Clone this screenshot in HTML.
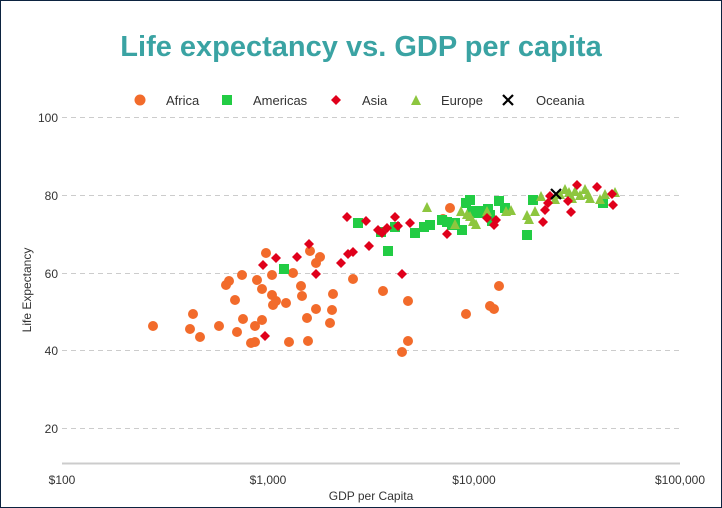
<!DOCTYPE html>
<html><head><meta charset="utf-8"><style>
body{margin:0;background:#fff}
svg{display:block;font-family:"Liberation Sans",Arial,sans-serif}
</style></head><body>
<svg width="722" height="508" viewBox="0 0 722 508">
<rect x="0.5" y="0.5" width="721" height="507" fill="#fff" stroke="#0c2340"/>
<text x="361" y="56" text-anchor="middle" font-size="29" font-weight="bold" fill="#3aa3a3">Life expectancy vs. GDP per capita</text>
<g font-size="13" fill="#333">
<circle cx="140" cy="100" r="5.5" fill="#f26b2b"/><text x="166" y="105">Africa</text>
<rect x="222" y="95" width="10" height="10" fill="#22cc44"/><text x="253" y="105">Americas</text>
<path d="M336 95 L341 100 L336 105 L331 100Z" fill="#e0001b"/><text x="362" y="105">Asia</text>
<path d="M416 95 L421 105 L411 105Z" fill="#8dc63f"/><text x="441" y="105">Europe</text>
<path d="M503 95 L513 105 M513 95 L503 105" stroke="#000" stroke-width="2.2"/><text x="536" y="105">Oceania</text>
</g>
<g stroke="#ccc" stroke-dasharray="5,4">
<line x1="62" x2="680" y1="117.5" y2="117.5"/><line x1="62" x2="680" y1="195.5" y2="195.5"/>
<line x1="62" x2="680" y1="273.5" y2="273.5"/><line x1="62" x2="680" y1="350.5" y2="350.5"/>
<line x1="62" x2="680" y1="428.5" y2="428.5"/>
</g>
<line x1="62" x2="680" y1="463.5" y2="463.5" stroke="#ccc" stroke-width="2"/>
<g font-size="12" fill="#333" text-anchor="end">
<text x="58" y="122">100</text><text x="58" y="200">80</text><text x="58" y="278">60</text><text x="58" y="355">40</text><text x="58" y="433">20</text>
</g>
<g font-size="12" fill="#333" text-anchor="middle">
<text x="62" y="484">$100</text><text x="268" y="484">$1,000</text><text x="474" y="484">$10,000</text><text x="680" y="484">$100,000</text>
<text x="371" y="500">GDP per Capita</text>
<text transform="translate(31,290) rotate(-90)">Life Expectancy</text>
</g>
<g fill="#f26b2b">
<circle cx="153" cy="326" r="5"/><circle cx="190" cy="329" r="5"/><circle cx="193" cy="314" r="5"/><circle cx="200" cy="337" r="5"/><circle cx="219" cy="326" r="5"/><circle cx="226" cy="285" r="5"/><circle cx="229" cy="281" r="5"/><circle cx="235" cy="300" r="5"/><circle cx="237" cy="332" r="5"/><circle cx="242" cy="275" r="5"/><circle cx="243" cy="319" r="5"/><circle cx="251" cy="343" r="5"/><circle cx="255" cy="342" r="5"/><circle cx="255" cy="326" r="5"/><circle cx="257" cy="280" r="5"/><circle cx="262" cy="289" r="5"/><circle cx="262" cy="320" r="5"/><circle cx="266" cy="253" r="5"/><circle cx="272" cy="275" r="5"/><circle cx="272" cy="295" r="5"/><circle cx="273" cy="305" r="5"/><circle cx="276" cy="301" r="5"/><circle cx="286" cy="303" r="5"/><circle cx="289" cy="342" r="5"/><circle cx="293" cy="273" r="5"/><circle cx="301" cy="286" r="5"/><circle cx="302" cy="296" r="5"/><circle cx="307" cy="318" r="5"/><circle cx="308" cy="341" r="5"/><circle cx="310" cy="251" r="5"/><circle cx="316" cy="263" r="5"/><circle cx="316" cy="309" r="5"/><circle cx="320" cy="257" r="5"/><circle cx="330" cy="323" r="5"/><circle cx="333" cy="294" r="5"/><circle cx="332" cy="310" r="5"/><circle cx="353" cy="279" r="5"/><circle cx="383" cy="291" r="5"/><circle cx="402" cy="352" r="5"/><circle cx="408" cy="341" r="5"/><circle cx="408" cy="301" r="5"/><circle cx="443" cy="219" r="5"/><circle cx="450" cy="208" r="5"/><circle cx="466" cy="314" r="5"/><circle cx="490" cy="306" r="5"/><circle cx="494" cy="309" r="5"/><circle cx="499" cy="286" r="5"/>
</g>
<g fill="#22cc44">
<rect x="279" y="264" width="10" height="10"/><rect x="353" y="218" width="10" height="10"/><rect x="376" y="227" width="10" height="10"/><rect x="383" y="246" width="10" height="10"/><rect x="390" y="222" width="10" height="10"/><rect x="410" y="228" width="10" height="10"/><rect x="419" y="222" width="10" height="10"/><rect x="425" y="220" width="10" height="10"/><rect x="437" y="215" width="10" height="10"/><rect x="442" y="217" width="10" height="10"/><rect x="447" y="220" width="10" height="10"/><rect x="450" y="218" width="10" height="10"/><rect x="457" y="225" width="10" height="10"/><rect x="461" y="198" width="10" height="10"/><rect x="465" y="195" width="10" height="10"/><rect x="467" y="206" width="10" height="10"/><rect x="471" y="208" width="10" height="10"/><rect x="473" y="206" width="10" height="10"/><rect x="476" y="208" width="10" height="10"/><rect x="483" y="204" width="10" height="10"/><rect x="485" y="210" width="10" height="10"/><rect x="487" y="216" width="10" height="10"/><rect x="494" y="196" width="10" height="10"/><rect x="500" y="203" width="10" height="10"/><rect x="522" y="230" width="10" height="10"/><rect x="528" y="195" width="10" height="10"/><rect x="598" y="198" width="10" height="10"/>
</g>
<g fill="#8dc63f">
<path d="M427 202l5 10h-10z"/><path d="M455 219l5 10h-10z"/><path d="M461 206l5 10h-10z"/><path d="M467 209l5 10h-10z"/><path d="M470 211l5 10h-10z"/><path d="M473 216l5 10h-10z"/><path d="M476 219l5 10h-10z"/><path d="M487 206l5 10h-10z"/><path d="M506 206l5 10h-10z"/><path d="M511 205l5 10h-10z"/><path d="M527 210l5 10h-10z"/><path d="M529 214l5 10h-10z"/><path d="M535 206l5 10h-10z"/><path d="M541 191l5 10h-10z"/><path d="M555 194l5 10h-10z"/><path d="M560 189l5 10h-10z"/><path d="M565 184l5 10h-10z"/><path d="M569 187l5 10h-10z"/><path d="M572 193l5 10h-10z"/><path d="M575 186l5 10h-10z"/><path d="M580 190l5 10h-10z"/><path d="M585 184l5 10h-10z"/><path d="M588 189l5 10h-10z"/><path d="M590 193l5 10h-10z"/><path d="M600 194l5 10h-10z"/><path d="M605 189l5 10h-10z"/><path d="M615 187l5 10h-10z"/>
</g>
<g fill="#e0001b">
<path d="M265 331l5 5-5 5-5-5z"/><path d="M263 260l5 5-5 5-5-5z"/><path d="M276 253l5 5-5 5-5-5z"/><path d="M297 252l5 5-5 5-5-5z"/><path d="M309 239l5 5-5 5-5-5z"/><path d="M316 269l5 5-5 5-5-5z"/><path d="M341 258l5 5-5 5-5-5z"/><path d="M347 212l5 5-5 5-5-5z"/><path d="M353 247l5 5-5 5-5-5z"/><path d="M348 249l5 5-5 5-5-5z"/><path d="M366 216l5 5-5 5-5-5z"/><path d="M369 241l5 5-5 5-5-5z"/><path d="M378 225l5 5-5 5-5-5z"/><path d="M382 228l5 5-5 5-5-5z"/><path d="M387 223l5 5-5 5-5-5z"/><path d="M395 212l5 5-5 5-5-5z"/><path d="M398 221l5 5-5 5-5-5z"/><path d="M402 269l5 5-5 5-5-5z"/><path d="M410 218l5 5-5 5-5-5z"/><path d="M447 229l5 5-5 5-5-5z"/><path d="M487 213l5 5-5 5-5-5z"/><path d="M494 220l5 5-5 5-5-5z"/><path d="M496 215l5 5-5 5-5-5z"/><path d="M543 217l5 5-5 5-5-5z"/><path d="M545 205l5 5-5 5-5-5z"/><path d="M548 198l5 5-5 5-5-5z"/><path d="M550 191l5 5-5 5-5-5z"/><path d="M568 196l5 5-5 5-5-5z"/><path d="M571 207l5 5-5 5-5-5z"/><path d="M577 180l5 5-5 5-5-5z"/><path d="M597 182l5 5-5 5-5-5z"/><path d="M612 189l5 5-5 5-5-5z"/><path d="M613 200l5 5-5 5-5-5z"/>
</g>
<path d="M551 189l10 10M561 189l-10 10" stroke="#000" stroke-width="2.2"/>
</svg>
</body></html>
